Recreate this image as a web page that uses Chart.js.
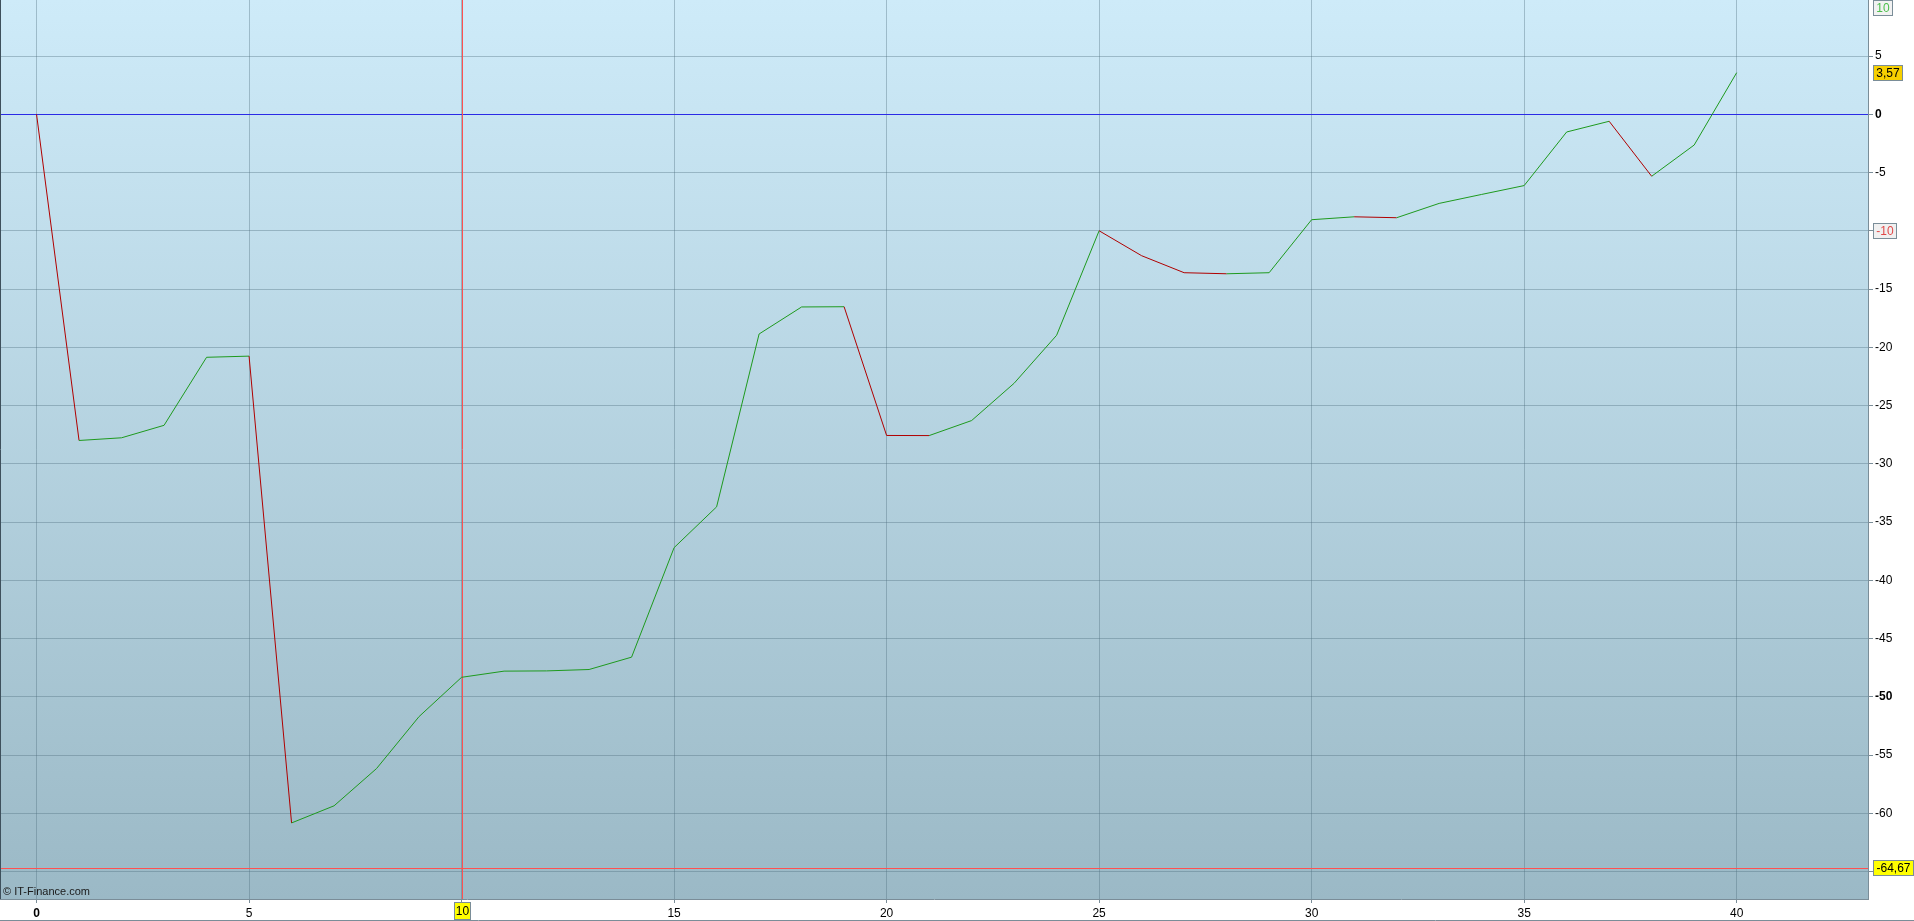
<!DOCTYPE html>
<html>
<head>
<meta charset="utf-8">
<script src="https://cdn.jsdelivr.net/npm/chart.js@4/dist/chart.umd.min.js"></script>
<style>
  html, body { margin: 0; padding: 0; background: #fff; overflow: hidden; }
  #chart { display: block; }
</style>
</head>
<body>
<canvas id="chart" width="1914" height="921"></canvas>
<script>
// data
const steps = [0, 1, 2, 3, 4, 5, 6, 7, 8, 9, 10, 11, 12, 13, 14, 15, 16, 17, 18, 19, 20,
               21, 22, 23, 24, 25, 26, 27, 28, 29, 30, 31, 32, 33, 34, 35, 36, 37, 38, 39, 40];
const values = [0, -28.0, -27.77, -26.7, -20.86, -20.76, -60.83, -59.36, -56.16, -51.7, -48.33,
                -47.8, -47.78, -47.66, -46.6, -37.2, -33.7, -18.86, -16.54, -16.52, -27.57,
                -27.58, -26.29, -23.09, -18.97, -10.0, -12.14, -13.6, -13.69, -13.6, -9.05,
                -8.8, -8.88, -7.65, -6.88, -6.12, -1.52, -0.6, -5.32, -2.64, 3.57];
const markerStep = 10;        // red vertical line
const zeroLevel = 0;          // blue horizontal line
const lowLevel = -64.67;      // red horizontal line
const topLevel = 10;          // boxed label at top of axis
const midLevel = -10;         // boxed label on axis
const lastValue = 3.57;
const xRange = [-0.86, 43.09];
const yRange = [-67.36, 9.81];

const RED = '#b00000';
const GREEN = '#1e9a1e';
const AXIS = '#7a8d98';
const GRID = 'rgba(80,110,125,0.38)';
const FONT = "'Liberation Sans', Arial, sans-serif";

function fmt(v) {
    return v.toFixed(2).replace('.', ',');
}

function box(ctx, text, x, yc, fill, color, w) {
    ctx.save();
    ctx.font = '12px ' + FONT;
    const tw = w || Math.ceil(ctx.measureText(text).width) + 6;
    let top = Math.round(yc - 8);
    if (top < 0) top = 0;
    ctx.fillStyle = fill;
    ctx.fillRect(x, top, tw, 16);
    ctx.strokeStyle = AXIS;
    ctx.lineWidth = 1;
    ctx.strokeRect(x + 0.5, top + 0.5, tw - 1, 15);
    ctx.fillStyle = color;
    ctx.textAlign = 'center';
    ctx.textBaseline = 'middle';
    ctx.fillText(text, x + tw / 2, top + 8.5);
    ctx.restore();
}

const decor = {
    id: 'decor',
    beforeDraw(chart) {
        const { ctx, chartArea: a } = chart;
        ctx.save();
        ctx.fillStyle = '#fff';
        ctx.fillRect(0, 0, chart.width, chart.height);
        const g = ctx.createLinearGradient(0, a.top, 0, a.bottom);
        g.addColorStop(0, '#ceebf9');
        g.addColorStop(1, '#9bb9c6');
        ctx.fillStyle = g;
        ctx.fillRect(a.left, a.top, a.right - a.left, a.bottom - a.top);
        ctx.restore();
    },
    beforeDatasetsDraw(chart) {
        const { ctx, chartArea: a, scales } = chart;
        ctx.save();
        ctx.lineWidth = 1;
        // zero line
        let y = Math.round(scales.y.getPixelForValue(zeroLevel)) + 0.5;
        ctx.strokeStyle = '#2a2ae6';
        ctx.beginPath(); ctx.moveTo(a.left, y); ctx.lineTo(a.right, y); ctx.stroke();
        // low line
        y = Math.round(scales.y.getPixelForValue(lowLevel)) + 0.5;
        ctx.strokeStyle = '#ff5050';
        ctx.beginPath(); ctx.moveTo(a.left, y); ctx.lineTo(a.right, y); ctx.stroke();
        // marker
        const x = Math.round(scales.x.getPixelForValue(markerStep)) + 0.5;
        ctx.beginPath(); ctx.moveTo(x, a.top); ctx.lineTo(x, a.bottom); ctx.stroke();
        ctx.restore();
    },
    afterDraw(chart) {
        const { ctx, chartArea: a, scales } = chart;
        ctx.save();
        // left border
        ctx.strokeStyle = '#3e505c';
        ctx.lineWidth = 1;
        ctx.beginPath(); ctx.moveTo(0.5, a.top); ctx.lineTo(0.5, a.bottom); ctx.stroke();
        // bottom frame line
        ctx.strokeStyle = AXIS;
        ctx.beginPath(); ctx.moveTo(0, chart.height - 0.5); ctx.lineTo(chart.width, chart.height - 0.5); ctx.stroke();
        // watermark
        ctx.fillStyle = '#1a1a1a';
        ctx.font = '11px ' + FONT;
        ctx.textBaseline = 'alphabetic';
        ctx.fillText('\u00a9 IT-Finance.com', 3, a.bottom - 4);
        ctx.restore();

        const bx = a.right + 5;
        box(ctx, String(topLevel), bx, scales.y.getPixelForValue(topLevel), '#f2f2f2', '#4cbf4c');
        box(ctx, fmt(lastValue), bx, scales.y.getPixelForValue(lastValue), '#f7d000', '#000');
        box(ctx, String(midLevel), bx, scales.y.getPixelForValue(midLevel), '#f0f0f0', '#e04848');
        box(ctx, fmt(lowLevel), bx, scales.y.getPixelForValue(lowLevel), '#ffff00', '#000');

        // x marker label
        ctx.save();
        ctx.font = '12px ' + FONT;
        const mx = scales.x.getPixelForValue(markerStep);
        ctx.fillStyle = '#ffff00';
        ctx.fillRect(Math.round(mx) - 8, a.bottom + 3, 17, 18);
        ctx.strokeStyle = AXIS;
        ctx.strokeRect(Math.round(mx) - 7.5, a.bottom + 3.5, 16, 17);
        ctx.fillStyle = '#000';
        ctx.textAlign = 'center';
        ctx.textBaseline = 'middle';
        ctx.fillText(String(markerStep), Math.round(mx) + 0.5, a.bottom + 12.5);
        ctx.restore();
    }
};

const points = steps.map((s, i) => ({ x: s, y: values[i] }));

new Chart(document.getElementById('chart'), {
    type: 'line',
    data: {
        datasets: [{
            data: points,
            borderColor: GREEN,
            borderWidth: 1,
            pointRadius: 0,
            tension: 0,
            segment: {
                borderColor: c => c.p1.parsed.y < c.p0.parsed.y ? RED : GREEN
            }
        }]
    },
    options: {
        responsive: false,
        animation: false,
        devicePixelRatio: 1,
        layout: { padding: 0 },
        plugins: { legend: { display: false }, tooltip: { enabled: false } },
        scales: {
            x: {
                type: 'linear',
                min: xRange[0],
                max: xRange[1],
                grid: { color: GRID, tickLength: 4, tickColor: AXIS },
                border: { color: AXIS },
                ticks: {
                    stepSize: 5,
                    includeBounds: false,
                    autoSkip: false,
                    maxRotation: 0,
                    padding: 3,
                    color: '#000',
                    font: c => ({ family: FONT, size: 12, weight: c.tick && c.tick.value === 0 ? 'bold' : 'normal' }),
                    callback: v => v === markerStep ? '' : String(v)
                },
                afterFit(s) { s.height = 22; s.paddingLeft = 0; s.paddingRight = 0; }
            },
            y: {
                position: 'right',
                min: yRange[0],
                max: yRange[1],
                grid: { color: GRID, tickLength: 5, tickColor: AXIS },
                border: { color: AXIS },
                ticks: {
                    stepSize: 5,
                    includeBounds: false,
                    padding: 2,
                    color: '#000',
                    font: c => ({ family: FONT, size: 12,
                        weight: c.tick && (c.tick.value === 0 || c.tick.value === -50) ? 'bold' : 'normal' }),
                    callback: v => (v === midLevel || v === -65) ? '' : String(v)
                },
                afterFit(s) { s.width = 46; s.paddingTop = 0; s.paddingBottom = 0; }
            }
        }
    },
    plugins: [decor]
});
</script>
</body>
</html>
